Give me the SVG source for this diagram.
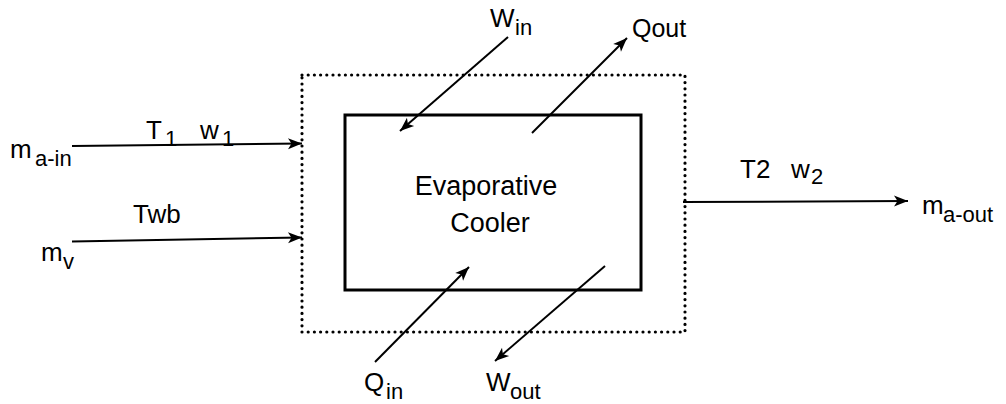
<svg xmlns="http://www.w3.org/2000/svg" width="1006" height="404" viewBox="0 0 1006 404">
<style>
text{font-family:"Liberation Sans",Arial,sans-serif;fill:#000;font-size:26px}
.sub{font-size:22px}
.conn{stroke:#000;stroke-width:2;fill:none;marker-end:url(#arr)}
</style>
<defs>
<marker id="arr" markerUnits="userSpaceOnUse" markerWidth="15" markerHeight="12" refX="14" refY="5.5" orient="auto" overflow="visible">
<path d="M0,0 L14,5.5 L0,11 L3.5,5.5 Z" fill="#000"/>
</marker>
</defs>
<rect width="1006" height="404" fill="#fff"/>
<g id="boundary">
<rect x="302" y="75" width="383" height="257" fill="none" stroke="#000" stroke-width="3.2" stroke-linecap="round" stroke-dasharray="0 6.2"/>
</g>
<g id="cooler">
<rect x="345" y="115" width="296" height="175" fill="none" stroke="#000" stroke-width="3"/>
<text x="486" y="195" text-anchor="middle" style="font-size:27px">Evaporative</text>
<text x="490" y="232" text-anchor="middle" style="font-size:27px">Cooler</text>
</g>
<g id="connectors">
<line class="conn" x1="72" y1="146" x2="302" y2="143.5"/>
<line class="conn" x1="72" y1="241.5" x2="302" y2="237.5"/>
<line class="conn" x1="683" y1="202" x2="908" y2="201"/>
<line class="conn" x1="508" y1="37" x2="400" y2="131"/>
<line class="conn" x1="532" y1="133" x2="627" y2="38"/>
<line class="conn" x1="375" y1="362" x2="469" y2="267"/>
<line class="conn" x1="605" y1="266" x2="495" y2="361"/>
</g>
<g id="label-ma-in"><text x="10" y="158">m<tspan class="sub" x="35" y="166">a-in</tspan></text></g>
<g id="label-t1w1"><text x="146" y="139">T<tspan class="sub" x="165" y="146">1</tspan><tspan x="200" y="139">w</tspan><tspan class="sub" x="222" y="146">1</tspan></text></g>
<g id="label-twb"><text x="133" y="223">Twb</text></g>
<g id="label-mv"><text x="41" y="261">m<tspan class="sub" x="63" y="269">v</tspan></text></g>
<g id="label-t2w2"><text x="740" y="178">T2<tspan x="791" y="178">w</tspan><tspan class="sub" x="811" y="184">2</tspan></text></g>
<g id="label-ma-out"><text x="922" y="214">m<tspan class="sub" x="943" y="222">a-out</tspan></text></g>
<g id="label-win"><text x="490" y="27">W<tspan class="sub" x="515" y="35">in</tspan></text></g>
<g id="label-qout"><text x="632" y="37" style="font-size:25px">Qout</text></g>
<g id="label-qin"><text x="364" y="391">Q<tspan class="sub" x="386" y="399">in</tspan></text></g>
<g id="label-wout"><text x="486" y="391">W<tspan class="sub" x="510" y="399">out</tspan></text></g>
</svg>
